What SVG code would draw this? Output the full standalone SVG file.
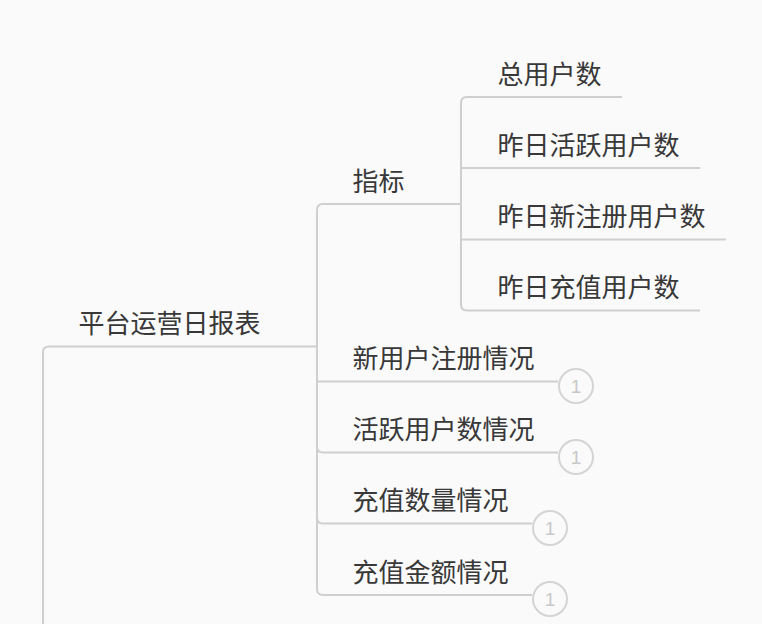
<svg xmlns="http://www.w3.org/2000/svg" width="762" height="624" viewBox="0 0 762 624">
<style>
.t{font-family:"Noto Sans CJK SC","Microsoft YaHei",sans-serif;font-size:26px;fill:#383838}
.c{fill:none;stroke:#cfcfcf;stroke-width:2}
.b{fill:#fafafa;stroke:#d4d4d4;stroke-width:2}
.n{font-family:"Liberation Sans",Arial,sans-serif;font-size:19px;fill:#c8c8c8;text-anchor:middle}
</style>
<rect width="762" height="624" fill="#fafafa"/>
<g id="connectors">
<path class="c" d="M43,630 V352 Q43,346.5 49,346.5 H317"/>
<path class="c" d="M317,346.5 V210 Q317,204 323,204 H461"/>
<path class="c" d="M317,346.5 V381.5 H558"/>
<path class="c" d="M317,346.5 V446.5 Q317,452.5 323,452.5 H558"/>
<path class="c" d="M317,346.5 V517.5 Q317,523.5 323,523.5 H532"/>
<path class="c" d="M317,346.5 V589 Q317,595 323,595 H532"/>
<path class="c" d="M461,204 V103 Q461,97 467,97 H622"/>
<path class="c" d="M461,204 V168 H700"/>
<path class="c" d="M461,204 V239.5 H726"/>
<path class="c" d="M461,204 V304.5 Q461,310.5 467,310.5 H700"/>
</g>
<g id="root"><text class="t" x="78.5" y="333">平台运营日报表</text></g>
<g id="zhibiao"><text class="t" x="352.5" y="191">指标</text></g>
<g id="n1"><text class="t" x="497.5" y="84">总用户数</text></g>
<g id="n2"><text class="t" x="497.5" y="155">昨日活跃用户数</text></g>
<g id="n3"><text class="t" x="497.5" y="226">昨日新注册用户数</text></g>
<g id="n4"><text class="t" x="497.5" y="297">昨日充值用户数</text></g>
<g id="s1"><text class="t" x="352.5" y="368">新用户注册情况</text>
<circle class="b" cx="576" cy="386" r="17"/><text class="n" x="576" y="392.5">1</text></g>
<g id="s2"><text class="t" x="352.5" y="439">活跃用户数情况</text>
<circle class="b" cx="576" cy="457" r="17"/><text class="n" x="576" y="463.5">1</text></g>
<g id="s3"><text class="t" x="352.5" y="510">充值数量情况</text>
<circle class="b" cx="550" cy="528" r="17"/><text class="n" x="550" y="534.5">1</text></g>
<g id="s4"><text class="t" x="352.5" y="582">充值金额情况</text>
<circle class="b" cx="550" cy="599" r="17"/><text class="n" x="550" y="605.5">1</text></g>
</svg>
